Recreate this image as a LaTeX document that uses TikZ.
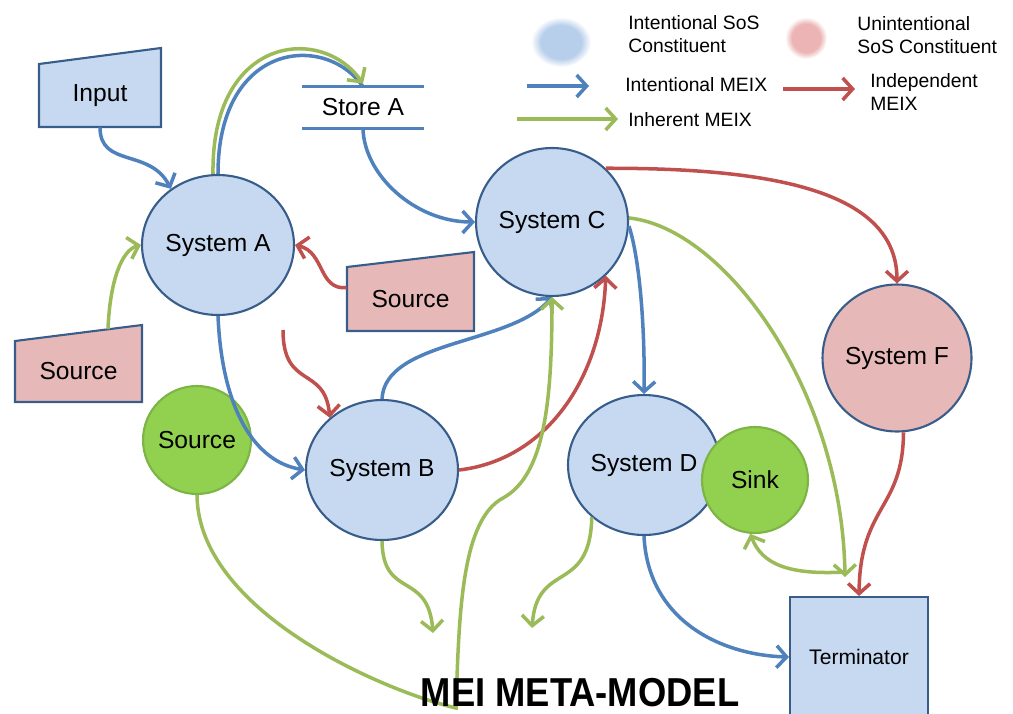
\documentclass[tikz,border=0pt]{standalone}
\usepackage{fontspec}
\setmainfont{Liberation Sans}
\usepackage{graphicx}
\usetikzlibrary{shapes.geometric,arrows.meta}

\definecolor{sysblue}{RGB}{198,217,240}
\definecolor{sysedge}{RGB}{56,93,138}
\definecolor{unpink}{RGB}{230,185,184}
\definecolor{srcgreen}{RGB}{146,208,80}
\definecolor{srcedge}{RGB}{125,180,70}
\definecolor{meixblue}{RGB}{79,129,189}
\definecolor{meixred}{RGB}{192,80,77}
\definecolor{meixgreen}{RGB}{155,187,89}
\definecolor{legblue}{RGB}{184,207,236}
\definecolor{legpink}{RGB}{236,180,180}

\pgfdeclareradialshading{blueblob}{\pgfpoint{0bp}{0bp}}{color(0bp)=(legblue);
  color(17bp)=(legblue); color(25bp)=(white); color(50bp)=(white)}
\pgfdeclareradialshading{pinkblob}{\pgfpoint{0bp}{0bp}}{color(0bp)=(legpink);
  color(17bp)=(legpink); color(25bp)=(white); color(50bp)=(white)}

\begin{document}
\begin{tikzpicture}[x=0.02cm, y=-0.02cm,
  every node/.style={font=\fontsize{14}{16}\selectfont},
  sys/.style={ellipse, draw=sysedge, line width=1.2pt, fill=sysblue,
    minimum width=3.04cm, minimum height=2.8cm, inner sep=0pt},
  unsys/.style={sys, fill=unpink},
  greennode/.style={circle, draw=srcedge, line width=1.2pt, fill=srcgreen,
    inner sep=0pt},
  manual/.style={draw=sysedge, line width=1.2pt},
  box/.style={rectangle, inner sep=0pt},
  meix/.style={line width=2pt, -{Straight Barb[length=2mm, width=4.4mm]}},
  intent/.style={meix, meixblue},
  indep/.style={meix, meixred},
  inher/.style={meix, meixgreen},
  legend/.style={anchor=west, align=left, inner sep=0pt,
    font=\fontsize{11}{13}\selectfont}]
  \useasboundingbox (0,0) rectangle (1013,713);

  \shade[shading=blueblob] (561,42) ellipse [x radius=0.6cm, y radius=0.5cm];
  \shade[shading=pinkblob] (806,38) circle [radius=0.42cm];
  \node[legend] (lt1) at (628,34) {Intentional SoS\\Constituent};
  \node[legend] (lt2) at (857,35) {Unintentional\\SoS Constituent};
  \node[legend] (lt3) at (625,85) {Intentional MEIX};
  \node[legend] (lt4) at (870,92) {Independent\\MEIX};
  \node[legend] (lt5) at (628,120) {Inherent MEIX};
  \coordinate (lb1) at (527,86);
  \coordinate (lb2) at (589,86);
  \coordinate (lr1) at (783,89);
  \coordinate (lr2) at (855,89);
  \coordinate (lg1) at (517,119);
  \coordinate (lg2) at (618,119);
  \draw[intent] (lb1) -- (lb2);
  \draw[indep] (lr1) -- (lr2);
  \draw[inher] (lg1) -- (lg2);

  \draw[manual, fill=sysblue] (39,64) -- (161,48) -- (161,127) -- (39,127)
  -- cycle;
  \node[box, minimum width=2.44cm, minimum height=1.26cm] (In) at (100,95.5)
  {Input};
  \draw[manual, fill=unpink] (347,267) -- (474,252) -- (474,331) -- (347,331)
  -- cycle;
  \node[box, minimum width=2.54cm, minimum height=1.28cm] (P1) at (410.5,299)
  {Source};
  \draw[manual, fill=unpink] (15,341) -- (142,325) -- (142,402) -- (15,402)
  -- cycle;
  \node[box, minimum width=2.54cm, minimum height=1.22cm] (P2) at (78.5,371.5)
  {Source};

  \node[box, minimum width=2.42cm, minimum height=0.82cm] (S) at (363,107.5)
  {Store A};
  \draw[meixblue, line width=2pt] (S.north west) -- (S.north east);
  \draw[meixblue, line width=2pt] (S.south west) -- (S.south east);

  \node[sys] (A) at (218,245) {System A};
  \node[sys] (B) at (382,470) {System B};
  \node[sys, minimum height=2.96cm] (C) at (552,222) {System C};
  \node[sys] (D) at (644,465) {System D};
  \node[unsys, minimum width=2.98cm, minimum height=2.94cm] (F) at (897,358)
  {System F};
  \node[greennode, minimum size=2.12cm] (Sk) at (755,480) {Sink};
  \node[greennode, minimum size=2.16cm] (GS) at (197,440) {Source};
  \node[box, draw=sysedge, line width=1.2pt, fill=sysblue, minimum width=2.76cm,
  minimum height=2.4cm, font=\fontsize{12}{14}\selectfont] (T) at (859,657)
  {Terminator};

  \coordinate (r2s) at (283,330);
  \coordinate (gturn) at (456,708);
  \coordinate (g4e) at (433,633);
  \coordinate (g5e) at (532,628);
  \coordinate (gj) at (845,577);

  \draw[intent] (In.south) .. controls (100,168) and (150,148) .. (A.130);
  \draw[meixblue, line width=2pt] (A.north) .. controls (218,42) and (325,32)
  .. (S.north);
  \draw[inher] ([xshift=-0.1cm]A.north) .. controls (211,36) and (321,24)
  .. ([yshift=0.06cm]S.north);
  \draw[intent] (S.south) .. controls (364,175) and (415,222) .. (C.west);
  \draw[intent] (A.south) .. controls (222,410) and (255,462) .. (B.west);
  \draw[intent] (B.north) .. controls (385,340) and (510,345) .. (C.south);
  \draw[intent] (C.-3) .. controls (640,260) and (645,330) .. (D.north);
  \draw[intent] (D.south) .. controls (648,620) and (720,655) .. (T.west);

  \draw[indep] (P1.170) .. controls (318,290) and (325,252) .. (A.east);
  \draw[indep] (r2s) .. controls (283,390) and (325,365) .. (B.135);
  \draw[indep] (B.east) .. controls (545,460) and (602,380) .. (C.-45);
  \draw[indep] (C.45) .. controls (770,168) and (897,190) .. (F.north);
  \draw[indep] (F.-85) .. controls (903,510) and (860,505) .. (T.north);

  \draw[inher] ([xshift=0.59cm,yshift=0.234cm]P2.north) .. controls (110,280)
  and (122,250) .. (A.west);
  \draw[inher] (GS.south) .. controls (198,610) and (380,690) .. (gturn)
  .. controls (459,610) and (462,520) .. (503,498)
  .. controls (545,475) and (552,400) .. (C.south);
  \draw[inher] (B.south) .. controls (383,600) and (428,570) .. (g4e);
  \draw[inher] (D.-135) .. controls (590,595) and (537,560) .. (g5e);
  \draw[inher] (C.3) .. controls (725,228) and (842,390) .. (gj);
  \draw[inher] ([yshift=0.1cm]gj) .. controls (790,575) and (762,565)
  .. (Sk.-95);

  \node[anchor=base, inner sep=0pt, font=\bfseries\fontsize{23}{26}\selectfont]
  (title) at (580,706) {\scalebox{0.9}[1]{MEI META-MODEL}};
\end{tikzpicture}
\end{document}
